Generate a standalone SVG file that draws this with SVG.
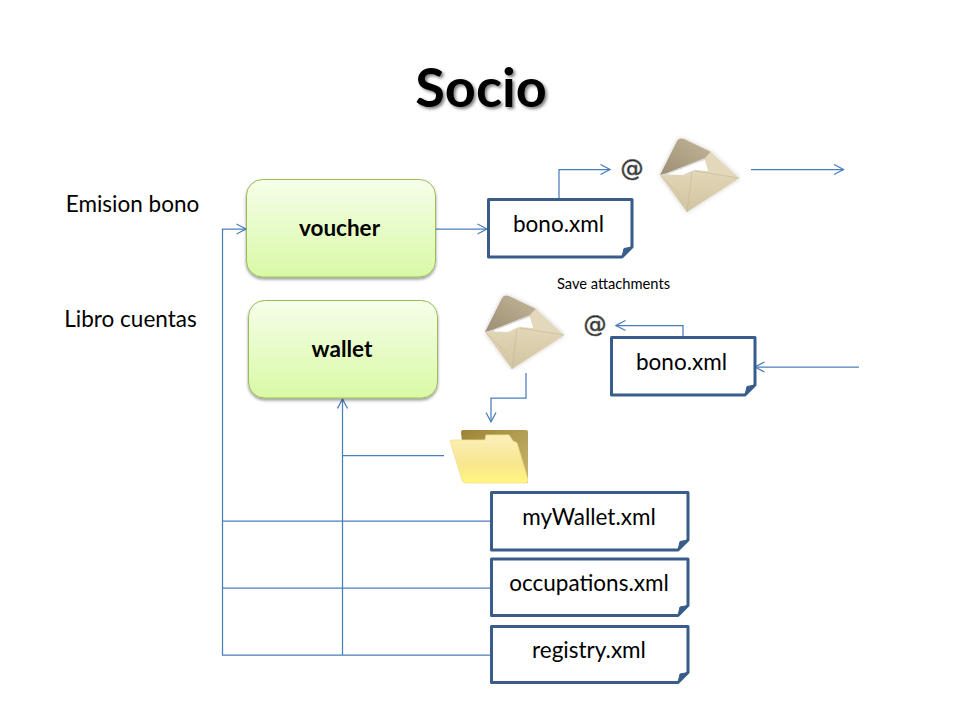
<svg xmlns="http://www.w3.org/2000/svg" width="960" height="720" viewBox="0 0 960 720">
<style>
text{font-family:"Lato","Open Sans","Liberation Sans",sans-serif;fill:#000;text-anchor:middle}
.c{fill:none;stroke:#4a7ebb;stroke-width:1.25}
.a{marker-end:url(#arrow)}
.doc{fill:#fff;stroke:#385d8a;stroke-width:3;stroke-linejoin:round}
.fold{fill:#385d8a;stroke:#385d8a;stroke-width:1;stroke-linejoin:round}
.box{fill:url(#green);stroke:#9bbb59;stroke-width:1;filter:url(#sh)}
.dt{font-size:22.500px}
.bt{font-size:22.500px;font-weight:700}
.lb{font-size:22.500px}
.at{font-family:"DejaVu Sans",sans-serif;font-size:23px;fill:#222;stroke:#666;stroke-width:.7}
</style>
<defs>
<linearGradient id="green" x1="0" y1="0" x2="0" y2="1"><stop offset="0" stop-color="#f6fee9"/><stop offset="1" stop-color="#d9f9a6"/></linearGradient>
<linearGradient id="flap" x1="1" y1="0" x2="0" y2="1"><stop offset="0" stop-color="#c4b699"/><stop offset="1" stop-color="#9c8e72"/></linearGradient>
<linearGradient id="env" x1="0" y1="0" x2="0" y2="1"><stop offset="0" stop-color="#e2d7b8"/><stop offset="1" stop-color="#d2c4a0"/></linearGradient>
<linearGradient id="fb" x1="0" y1="0" x2="1" y2="1"><stop offset="0" stop-color="#9c8436"/><stop offset="1" stop-color="#c9b870"/></linearGradient>
<linearGradient id="ff" x1="0" y1="0" x2="0" y2="1"><stop offset="0" stop-color="#fbf0bb"/><stop offset=".6" stop-color="#f8e68e"/><stop offset="1" stop-color="#fff780"/></linearGradient>
<filter id="sh" x="-10%" y="-10%" width="120%" height="125%"><feDropShadow dx="0" dy="2" stdDeviation="1.6" flood-color="#000" flood-opacity=".4"/></filter>
<filter id="ts" x="-10%" y="-10%" width="125%" height="130%"><feDropShadow dx="2" dy="2" stdDeviation="1.5" flood-color="#000" flood-opacity=".5"/></filter>
<filter id="es" x="-15%" y="-15%" width="130%" height="130%"><feDropShadow dx="0" dy="0" stdDeviation="2" flood-color="#000" flood-opacity=".22"/></filter>
<marker id="arrow" markerUnits="userSpaceOnUse" markerWidth="12" markerHeight="14" refX="10.500" refY="6" orient="auto"><path d="M1,1 L10.500,6 L1,11" fill="none" stroke="#4a7ebb" stroke-width="1.25"/></marker>
<g id="envelope">
<g filter="url(#es)">
<path d="M710.700,151.700 L739.300,178.300 L695,172 L703,160Z" fill="#e3d8bb"/>
<path d="M669,174 L705,160 L708,171 L693,170 L683,175Z" fill="#fff"/>
<path d="M660,175 L676.700,141.700 Q679,137 684,139 L710.700,151.700 L705,158 L667,173Z" fill="url(#flap)"/>
<path d="M660,175 L683,175 L695,170 L739.300,178.300 L687,212 Z" fill="url(#env)"/>
</g>
<path d="M687,212 L692,172 M661,176 L680,195 M739,178 L695,171" fill="none" stroke="#c8ba97" stroke-width=".7"/>
</g>
</defs>
<rect width="960" height="720" fill="#fff"/>

<g id="connectors">
<path class="c a" d="M436,229 H487"/>
<path class="c a" d="M559,199 V169.500 H610"/>
<path class="c a" d="M751,169.500 H843.500"/>
<path class="c a" d="M683,337 V325.500 H616"/>
<path class="c a" d="M859,367 H755"/>
<path class="c a" d="M526,373 V398 H491 V422"/>
<path class="c" d="M444,455.500 H343"/>
<path class="c a" d="M342.500,655 V399"/>
<path class="c a" d="M491,655 H222.500 V229 H246"/>
<path class="c" d="M491,521 H222.500"/>
<path class="c" d="M491,588 H222.500"/>
</g>

<g id="title"><text x="481" y="107" font-size="54" font-weight="700" filter="url(#ts)">Socio</text></g>
<g id="label-emision"><text class="lb" x="132.500" y="212">Emision bono</text></g>
<g id="label-libro"><text class="lb" x="130.500" y="327">Libro cuentas</text></g>
<g id="label-save"><text x="613.500" y="289" font-size="14.700">Save attachments</text></g>

<g id="voucher"><rect class="box" x="246.500" y="179.500" width="189" height="97.500" rx="16"/><text class="bt" x="339.500" y="236">voucher</text></g>
<g id="wallet"><rect class="box" x="248.500" y="300.500" width="189" height="97.500" rx="16"/><text class="bt" x="342" y="357">wallet</text></g>

<g id="doc-bono-1"><path class="doc" d="M488.500,199.500 H632 V247 L622,257 H488.500 Z"/><path class="fold" d="M632,247 L622,257 L624,248.500 Z"/><text class="dt" x="558.500" y="232">bono.xml</text></g>
<g id="doc-bono-2"><path class="doc" d="M611.500,337.500 H755 V385 L745,395 H611.500 Z"/><path class="fold" d="M755,385 L745,395 L747,386.500 Z"/><text class="dt" x="681.500" y="370">bono.xml</text></g>
<g id="doc-mywallet"><path class="doc" d="M491.500,492.500 H688 V540 L678,550 H491.500 Z"/><path class="fold" d="M688,540 L678,550 L680,541.500 Z"/><text class="dt" x="589" y="525">myWallet.xml</text></g>
<g id="doc-occupations"><path class="doc" d="M491.500,559 H688 V605.500 L678,615.500 H491.500 Z"/><path class="fold" d="M688,605.500 L678,615.500 L680,607 Z"/><text class="dt" x="589" y="591">occupations.xml</text></g>
<g id="doc-registry"><path class="doc" d="M491.500,626.500 H688 V672.500 L678,682.500 H491.500 Z"/><path class="fold" d="M688,672.500 L678,682.500 L680,674 Z"/><text class="dt" x="589" y="658">registry.xml</text></g>

<g id="at-1"><text class="at" x="632" y="176">@</text></g>
<g id="at-2"><text class="at" x="595" y="332">@</text></g>
<g id="envelope-1"><use href="#envelope"/></g>
<g id="envelope-2"><use href="#envelope" x="-175" y="157"/></g>
<g id="folder">
<path d="M461,432 Q461,430 463,430 H526 Q528,430 528,432 V483 H466 Z" fill="url(#fb)"/>
<path d="M450,441 Q450,440 452,440 H485 L486,435 H509 L513,441 L517,443 L528,480 Q528,483 525,483 H466 Q463,483 462,480 Z" fill="url(#ff)" stroke="#f3e08a" stroke-width=".8"/>
</g>
</svg>
